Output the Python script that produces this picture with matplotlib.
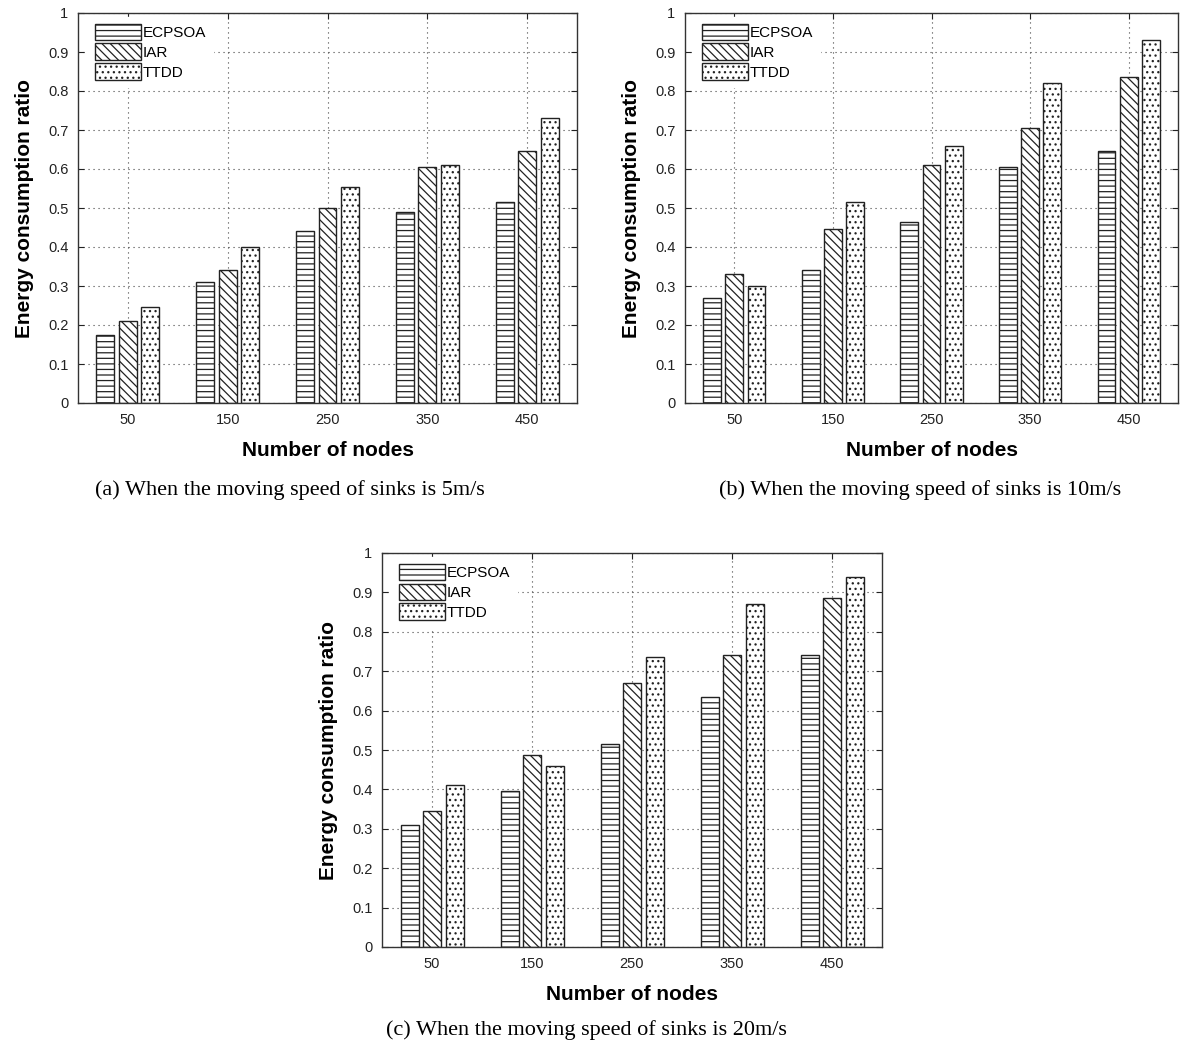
import matplotlib
matplotlib.use('Agg')
from matplotlib import pyplot
import numpy

nodes = [50, 150, 250, 350, 450]
methods = ['ECPSOA', 'IAR', 'TTDD']
y_ticks = [0, 0.1, 0.2, 0.3, 0.4, 0.5, 0.6, 0.7, 0.8, 0.9, 1]
y_tick_labels = ['0', '0.1', '0.2', '0.3', '0.4', '0.5', '0.6', '0.7', '0.8', '0.9', '1']

# (a) sinks moving at 5 m/s
ecpsoa_5 = [0.175, 0.31, 0.44, 0.49, 0.515]
iar_5 = [0.21, 0.34, 0.50, 0.605, 0.645]
ttdd_5 = [0.245, 0.40, 0.555, 0.61, 0.73]

# (b) sinks moving at 10 m/s
ecpsoa_10 = [0.27, 0.34, 0.465, 0.605, 0.645]
iar_10 = [0.33, 0.445, 0.61, 0.705, 0.835]
ttdd_10 = [0.30, 0.515, 0.66, 0.82, 0.93]

# (c) sinks moving at 20 m/s
ecpsoa_20 = [0.31, 0.395, 0.515, 0.635, 0.74]
iar_20 = [0.345, 0.487, 0.67, 0.74, 0.885]
ttdd_20 = [0.41, 0.46, 0.735, 0.87, 0.94]

captions = ['(a) When the moving speed of sinks is 5m/s',
            '(b) When the moving speed of sinks is 10m/s',
            '(c) When the moving speed of sinks is 20m/s']

hatches = ['---', '\\\\\\\\', '...']
sans = ['Liberation Sans', 'DejaVu Sans']
serif = ['Liberation Serif', 'DejaVu Serif']

pyplot.rcParams['hatch.linewidth'] = 0.9
pyplot.rcParams['font.family'] = sans

fig = pyplot.figure(figsize=(11.89, 10.45), dpi=100)

W, H = 1189.0, 1045.0
boxes = [(78, 577, 13, 403), (685, 1178, 13, 403), (382, 882, 553, 947)]
panels = [(ecpsoa_5, iar_5, ttdd_5), (ecpsoa_10, iar_10, ttdd_10), (ecpsoa_20, iar_20, ttdd_20)]
caption_pos = [(290, 490), (920, 490), (586, 1030)]

x = numpy.array(nodes)
offsets = [-22.5, 0, 22.5]
width = 18

for box, series, cap, cpos in zip(boxes, panels, captions, caption_pos):
    l, r, t, b = box
    ax = fig.add_axes([l / W, 1 - b / H, (r - l) / W, (b - t) / H])
    ax.set_axisbelow(True)
    for vals, off, h, name in zip(series, offsets, hatches, methods):
        ax.bar(x + off, vals, width, facecolor='white', edgecolor='#222222',
               hatch=h, linewidth=1.0, label=name)
    ax.set_xlim(0, 500)
    ax.set_ylim(0, 1)
    ax.set_xticks(nodes)
    ax.set_xticklabels([str(n) for n in nodes])
    ax.set_yticks(y_ticks)
    ax.set_yticklabels(y_tick_labels)
    ax.tick_params(direction='in', top=True, right=True, length=4, width=0.8,
                   labelsize=10.5, pad=7, colors='#222222')
    ax.grid(True, color='#444444', linestyle=(0, (1, 3.5)), linewidth=0.8)
    for s in ax.spines.values():
        s.set_linewidth(1.0)
        s.set_color('#333333')
    ax.set_xlabel('Number of nodes', fontsize=15, fontweight='bold', labelpad=10)
    ax.set_ylabel('Energy consumption ratio', fontsize=15, fontweight='bold', labelpad=10)
    leg = ax.legend(loc='upper left', bbox_to_anchor=(0.02, 0.99), borderaxespad=0,
                    borderpad=0.45, fontsize=11, handlelength=3.0, handleheight=1.3,
                    labelspacing=0.2, handletextpad=0.15, fancybox=False,
                    framealpha=1, facecolor='white', edgecolor='white')
    fig.text(cpos[0] / W, 1 - cpos[1] / H, cap, ha='center', va='center',
             fontsize=16, family=serif)

fig.savefig('out.png', dpi=100)
